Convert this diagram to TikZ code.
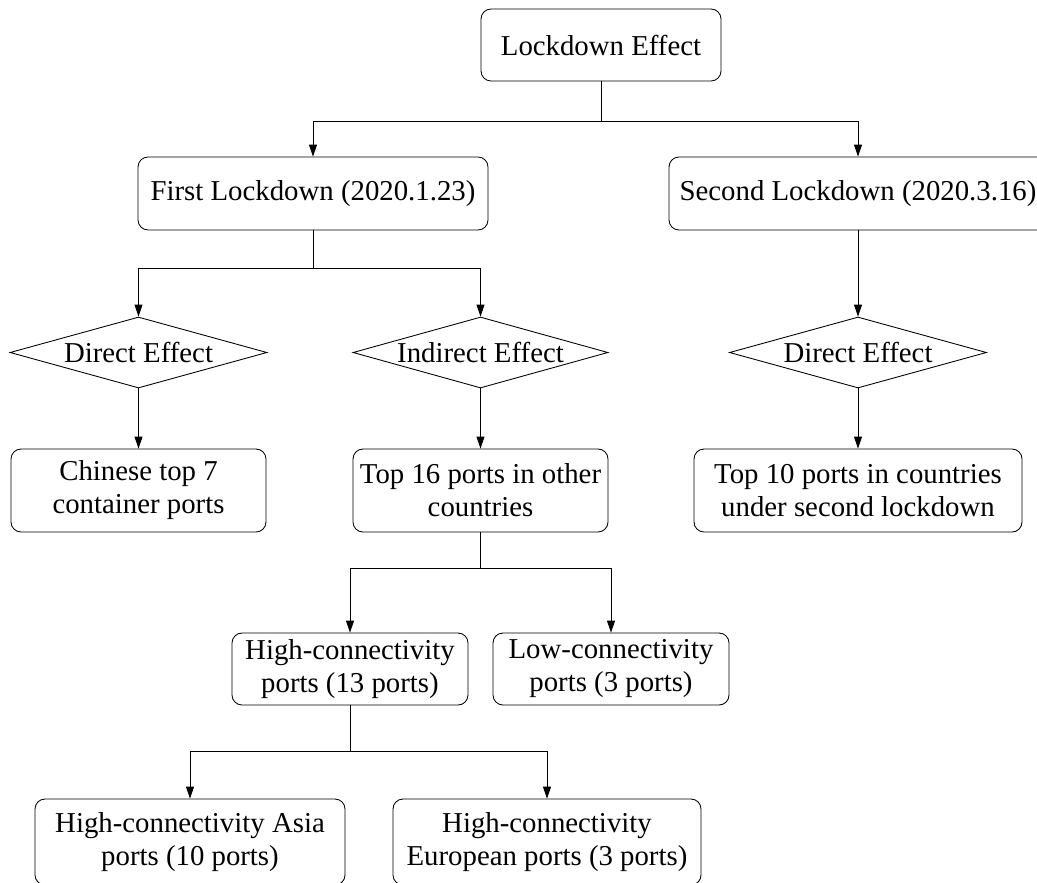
\documentclass[tikz,border=0pt]{standalone}
\usepackage{fontspec}
\setmainfont{Liberation Serif}
\usetikzlibrary{arrows.meta,shapes.geometric}
\tikzset{
  box/.style={draw, rounded corners=7.5pt, line width=0.65pt, align=center, inner sep=0pt,
    font=\fontsize{21.6}{24.75}\selectfont},
  dia/.style={draw, diamond, aspect=3.6, inner sep=0pt, line width=0.65pt,
    font=\fontsize{21.6}{24.75}\selectfont},
  conn/.style={line width=0.65pt},
  arr/.style={line width=0.65pt, -{Triangle[length=9pt,width=6pt]}}
}
\begin{document}
\begin{tikzpicture}[x=0.75pt,y=-0.75pt]
\useasboundingbox (0,0) rectangle (1037,882);
\clip (0,0) rectangle (1037,882);
% nodes
\node[box, minimum width=180pt, minimum height=54pt] (L) at (601,45) {Lockdown Effect};
\node[box, minimum width=262.5pt, minimum height=54.75pt] (F) at (313,193.5) {First Lockdown (2020.1.23)};
\node[box, minimum width=283.5pt, minimum height=54.75pt] (S) at (858,193.5) {Second Lockdown (2020.3.16)};
\node[dia, minimum width=192.75pt, minimum height=53.25pt] (D1) at (138.5,352.5) {Direct Effect};
\node[dia, minimum width=191.25pt, minimum height=53.25pt] (IE) at (480.5,352.5) {Indirect Effect};
\node[dia, minimum width=192.75pt, minimum height=53.25pt] (D2) at (858,352.5) {Direct Effect};
\node[box, minimum width=191.25pt, minimum height=62.25pt] (C) at (138.5,490.5) {Chinese top 7\\container ports};
\node[box, minimum width=191.25pt, minimum height=62.25pt] (T16) at (480.5,490.5) {Top 16 ports in other\\countries};
\node[box, minimum width=246pt, minimum height=62.25pt] (T10) at (858,490.5) {Top 10 ports in countries\\under second lockdown};
\node[box, minimum width=177pt, minimum height=54pt] (HC) at (350,669) {High-connectivity\\ports (13 ports)};
\node[box, minimum width=177pt, minimum height=54pt] (LC) at (611,669) {Low-connectivity\\ports (3 ports)};
\node[box, minimum width=232.5pt, minimum height=64.5pt] (AS) at (190,842) {High-connectivity Asia\\ports (10 ports)};
\node[box, minimum width=231pt, minimum height=64.5pt] (EU) at (547,842) {High-connectivity\\European ports (3 ports)};
% junctions
\coordinate (j1) at (601,121);
\coordinate (j2) at (313,268);
\coordinate (j3) at (480.5,568);
\coordinate (j4) at (350,751);
% connectors
\draw[conn] (L.south) -- (j1);
\draw[arr] (j1) -| (F.north);
\draw[arr] (j1) -| (S.north);
\draw[conn] (F.south) -- (j2);
\draw[arr] (j2) -| (D1.north);
\draw[arr] (j2) -| (IE.north);
\draw[arr] (S.south) -- (D2.north);
\draw[arr] (D1.south) -- (C.north);
\draw[arr] (IE.south) -- (T16.north);
\draw[arr] (D2.south) -- (T10.north);
\draw[conn] (T16.south) -- (j3);
\draw[arr] (j3) -| (HC.north);
\draw[arr] (j3) -| (LC.north);
\draw[conn] (HC.south) -- (j4);
\draw[arr] (j4) -| (AS.north);
\draw[arr] (j4) -| (EU.north);
\end{tikzpicture}
\end{document}
